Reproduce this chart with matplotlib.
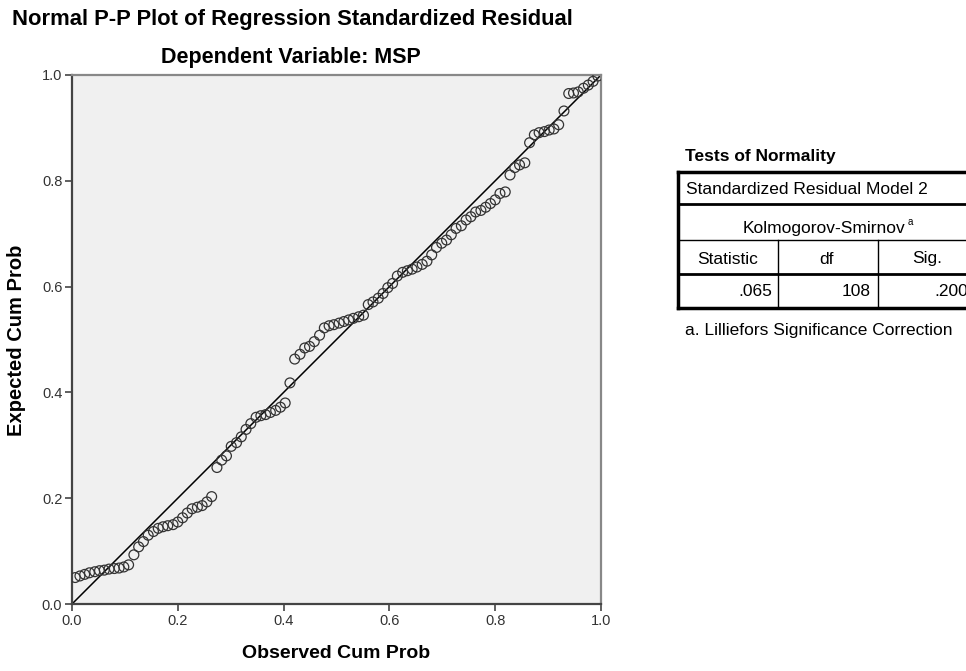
import matplotlib
matplotlib.use("Agg")
import matplotlib.pyplot as plt

plt.rcParams['font.family'] = ['Liberation Sans', 'DejaVu Sans']

# observed vs expected cumulative probabilities of the standardized residuals
observed = [
    0.006, 0.015, 0.024, 0.033, 0.043, 0.052, 0.061, 0.070, 0.080, 0.089,
    0.098, 0.107, 0.117, 0.126, 0.135, 0.144, 0.154, 0.163, 0.172, 0.181,
    0.191, 0.200, 0.209, 0.218, 0.227, 0.237, 0.246, 0.255, 0.264, 0.274,
    0.283, 0.292, 0.301, 0.311, 0.320, 0.329, 0.338, 0.348, 0.357, 0.366,
    0.375, 0.385, 0.394, 0.403, 0.412, 0.421, 0.431, 0.440, 0.449, 0.458,
    0.468, 0.477, 0.486, 0.495, 0.505, 0.514, 0.523, 0.532, 0.542, 0.551,
    0.560, 0.569, 0.579, 0.588, 0.597, 0.606, 0.615, 0.625, 0.634, 0.643,
    0.652, 0.662, 0.671, 0.680, 0.689, 0.699, 0.708, 0.717, 0.726, 0.736,
    0.745, 0.754, 0.763, 0.773, 0.782, 0.791, 0.800, 0.809, 0.819, 0.828,
    0.837, 0.846, 0.856, 0.865, 0.874, 0.883, 0.893, 0.902, 0.911, 0.920,
    0.930, 0.939, 0.948, 0.957, 0.967, 0.976, 0.985, 0.994,
]
expected = [
    0.050, 0.053, 0.056, 0.059, 0.061, 0.063, 0.064, 0.066, 0.067, 0.068,
    0.070, 0.074, 0.093, 0.108, 0.118, 0.130, 0.137, 0.143, 0.146, 0.148,
    0.150, 0.155, 0.163, 0.172, 0.180, 0.183, 0.186, 0.193, 0.203, 0.258,
    0.272, 0.280, 0.298, 0.305, 0.316, 0.330, 0.341, 0.353, 0.356, 0.358,
    0.362, 0.366, 0.372, 0.380, 0.418, 0.463, 0.472, 0.484, 0.487, 0.496,
    0.508, 0.522, 0.526, 0.528, 0.531, 0.534, 0.537, 0.540, 0.543, 0.546,
    0.566, 0.571, 0.578, 0.587, 0.598, 0.606, 0.620, 0.627, 0.630, 0.633,
    0.637, 0.642, 0.648, 0.660, 0.674, 0.682, 0.688, 0.698, 0.710, 0.715,
    0.726, 0.732, 0.741, 0.744, 0.750, 0.757, 0.764, 0.776, 0.779, 0.811,
    0.825, 0.830, 0.834, 0.872, 0.887, 0.891, 0.893, 0.896, 0.898, 0.906,
    0.932, 0.965, 0.966, 0.968, 0.975, 0.981, 0.988, 0.998,
]
ticks = [0.0, 0.2, 0.4, 0.6, 0.8, 1.0]
tick_labels = ['0.0', '0.2', '0.4', '0.6', '0.8', '1.0']

# normality test table
table_title = 'Tests of Normality'
table_group = 'Standardized Residual Model 2'
table_test = 'Kolmogorov-Smirnov'
table_headers = ['Statistic', 'df', 'Sig.']
table_values = ['.065', '108', '.200']
table_note = 'a. Lilliefors Significance Correction'

W, H = 966, 671
fig = plt.figure(figsize=(W / 100, H / 100), dpi=100)
fig.patch.set_facecolor('white')

ax = fig.add_axes([72 / W, 1 - 604 / H, 529 / W, 529 / H])
ax.set_facecolor('#f0f0f0')
ax.plot([0, 1], [0, 1], color='black', lw=1.1, zorder=2)
ax.scatter(observed, expected, s=50, facecolors='none', edgecolors='#333333',
           linewidths=0.9, zorder=3)
ax.set_xlim(0, 1)
ax.set_ylim(0, 1)
ax.set_xticks(ticks)
ax.set_xticklabels(tick_labels)
ax.set_yticks(ticks)
ax.set_yticklabels(tick_labels)
ax.tick_params(direction='out', length=5, width=1.2, color='#444444',
               labelsize=10.5, labelcolor='#333333', pad=2)
for side in ['left', 'bottom']:
    ax.spines[side].set_color('#444444')
    ax.spines[side].set_linewidth(1.6)
for side in ['top', 'right']:
    ax.spines[side].set_color('#888888')
    ax.spines[side].set_linewidth(1.6)

fig.text(336 / W, 1 - 654 / H, 'Observed Cum Prob', fontsize=14,
         fontweight='bold', ha='center', va='center')
fig.text(17 / W, 1 - 340 / H, 'Expected Cum Prob', fontsize=14.5,
         fontweight='bold', ha='center', va='center', rotation=90)

fig.text(12 / W, 1 - 20 / H, 'Normal P-P Plot of Regression Standardized Residual',
         fontsize=15.8, fontweight='bold', ha='left', va='center')
fig.text(291 / W, 1 - 58 / H, 'Dependent Variable: MSP',
         fontsize=15.5, fontweight='bold', ha='center', va='center')

# table drawn in pixel coordinates on an overlay
ov = fig.add_axes([0, 0, 1, 1], facecolor='none')
ov.set_xlim(0, W)
ov.set_ylim(H, 0)
ov.axis('off')

left, right = 678, 1000
rows = [172, 204, 240, 274, 308]
cols = [778, 878]
fs = 12.5

ov.text(685, 157, table_title, fontsize=fs, fontweight='bold', va='center')
ov.plot([left, right], [rows[0], rows[0]], color='black', lw=2.5)
ov.plot([left, right], [rows[1], rows[1]], color='black', lw=2.0)
ov.plot([left, right], [rows[2], rows[2]], color='black', lw=1.0)
ov.plot([left, right], [rows[3], rows[3]], color='black', lw=2.0)
ov.plot([left, right], [rows[4], rows[4]], color='black', lw=2.5)
ov.plot([left, left], [rows[0], rows[4]], color='black', lw=2.5)
for c in cols:
    ov.plot([c, c], [rows[2], rows[4]], color='black', lw=1.0)

ov.text(686, 190, table_group, fontsize=fs, va='center')
ov.text(824, 228, table_test, fontsize=fs, va='center', ha='center')
ov.text(908, 222, 'a', fontsize=7, va='center', ha='left')
centers = [728, 826, 927]
for cx, h in zip(centers, table_headers):
    ov.text(cx, 259, h, fontsize=fs, va='center', ha='center')
rights = [772, 871, 968]
for rx, v in zip(rights, table_values):
    ov.text(rx, 292, v, fontsize=fs, va='center', ha='right')
ov.text(685, 331, table_note, fontsize=fs, va='center')

fig.savefig('out.png', dpi=100)
